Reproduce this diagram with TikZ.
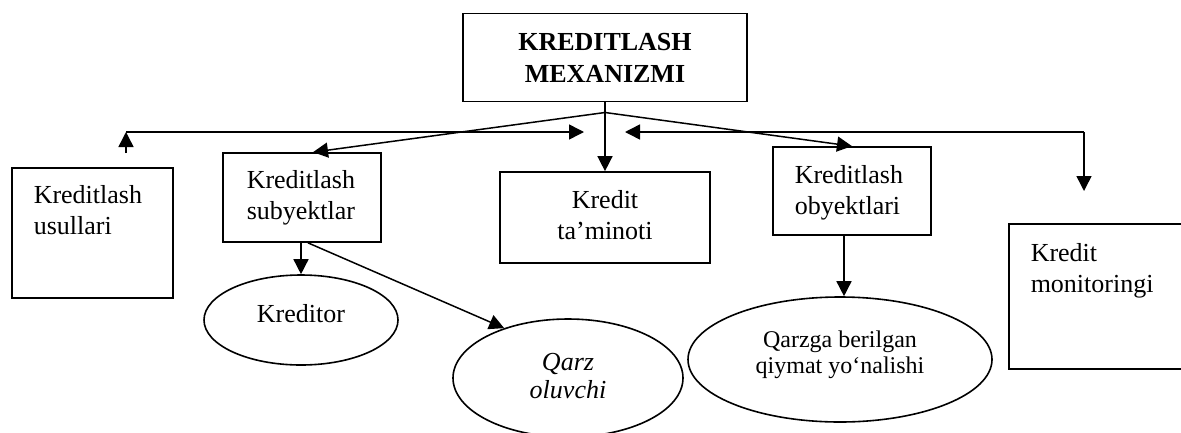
\documentclass[tikz,border=0pt]{standalone}
\usepackage{fontspec}
\setmainfont{Liberation Serif}
\usetikzlibrary{arrows.meta,shapes.geometric}
\begin{document}
\begin{tikzpicture}[x=1pt,y=-1pt,
  line width=1.5pt,
  box/.style={draw, rectangle, inner sep=0pt, line width=1.7pt},
  oval/.style={draw, ellipse, inner sep=0pt, line width=1.6pt},
  txt/.style={inner sep=0pt, font=\fontsize{26}{31}\selectfont, align=left},
  arr/.style={-{Triangle[length=15pt,width=15pt]}},
]
\useasboundingbox (0,0) rectangle (1181,432);

% title box
\node[box, minimum width=284pt, minimum height=88pt, align=center,
      font=\fontsize{26}{32}\selectfont\bfseries] (mech) at (605,57.5)
      {KREDITLASH\\MEXANIZMI};

% second-level boxes
\node[box, minimum width=161pt, minimum height=130pt] (usul) at (92.5,233) {};
\node[box, minimum width=158pt, minimum height=89pt] (sub) at (302,197.5) {};
\node[box, minimum width=210pt, minimum height=91pt] (tam) at (605,217.5) {};
\node[box, minimum width=158pt, minimum height=88pt] (obj) at (852,191) {};
\node[box, minimum width=191pt, minimum height=145pt] (mon) at (1104.5,296.5) {};

% box captions
\node[txt, anchor=north west] (usultxt) at (33,184.3) {Kreditlash\\usullari};
\node[txt, anchor=north west] (subtxt) at (246,169.3) {Kreditlash\\subyektlar};
\node[txt, anchor=north, align=center] (tamtxt) at (605,189.3) {Kredit\\ta’minoti};
\node[txt, anchor=north west] (objtxt) at (794,164.3) {Kreditlash\\obyektlari};
\node[txt, anchor=north west] (montxt) at (1030,242.3) {Kredit\\monitoringi};

% third-level ellipses
\node[oval, minimum width=194pt, minimum height=90pt] (kreditor) at (301,320) {};
\node[oval, minimum width=230pt, minimum height=118pt] (qarz) at (568,378) {};
\node[oval, minimum width=304pt, minimum height=125pt] (qiymat) at (840,359.5) {};

\node[txt, anchor=base] (kreditortxt) at (301,322) {Kreditor};
\node[txt, anchor=north, align=center, font=\fontsize{26}{28}\selectfont\itshape]
  (qarztxt) at (568,352.2) {Qarz\\oluvchi};
\node[txt, anchor=north, align=center, font=\fontsize{24}{26}\selectfont]
  (qiymattxt) at (840,329.6) {Qarzga berilgan\\qiymat yo‘nalishi};

% connectors from the title
\coordinate (hub) at (605,112.5);
\draw (mech.south) -- (hub);
\draw[arr] (hub) -- (tam.north);
\draw[arr] (hub) -- ([xshift=11pt]sub.north);
\draw[arr] (hub) -- (obj.north);

% left bus
\coordinate (lstub) at (126,153);
\coordinate (lcorner) at (126,132);
\coordinate (ltip) at (584,132);
\draw[arr] (lstub) -- (lcorner);
\draw[arr] (lcorner) -- (ltip);

% right bus
\coordinate (rcorner) at (1084,132);
\coordinate (rtip) at (625,132);
\coordinate (rdown) at (1084,191);
\draw[arr] (rcorner) -- (rtip);
\draw[arr] (rcorner) -- (rdown);

% lower connectors
\draw[arr] (kreditor.north |- sub.south) -- (kreditor.north);
\draw[arr] ([xshift=6pt]sub.south) -- (qarz.142);
\draw[arr] ([xshift=-8pt]obj.south) -- ([xshift=-8pt]obj.south |- qiymat.north);
\end{tikzpicture}
\end{document}
